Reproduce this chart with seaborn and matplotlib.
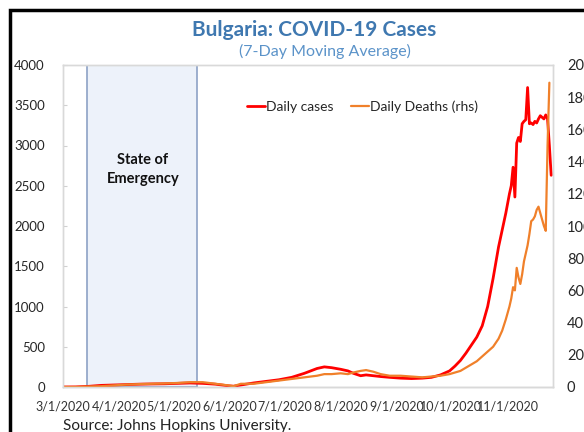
import numpy as np
import pandas as pd
import matplotlib
matplotlib.use("Agg")
import matplotlib.pyplot as plt
from matplotlib.patches import Rectangle
import seaborn as sns

# 7-day moving averages
dates = [
    "2020-03-01", "2020-03-08", "2020-03-15", "2020-03-22", "2020-03-29",
    "2020-04-05", "2020-04-12", "2020-04-19", "2020-04-26", "2020-05-03",
    "2020-05-10", "2020-05-17", "2020-05-24", "2020-05-31", "2020-06-03",
    "2020-06-07", "2020-06-14", "2020-06-21", "2020-06-28", "2020-07-05",
    "2020-07-12", "2020-07-19", "2020-07-23", "2020-07-27", "2020-08-01",
    "2020-08-05", "2020-08-08", "2020-08-12", "2020-08-15", "2020-08-19",
    "2020-08-23", "2020-08-28", "2020-09-03", "2020-09-09", "2020-09-15",
    "2020-09-20", "2020-09-25", "2020-09-30", "2020-10-03", "2020-10-06",
    "2020-10-09", "2020-10-12", "2020-10-15", "2020-10-18", "2020-10-21",
    "2020-10-24", "2020-10-27", "2020-10-29", "2020-10-31", "2020-11-02",
    "2020-11-03", "2020-11-04", "2020-11-05", "2020-11-06", "2020-11-07",
    "2020-11-08", "2020-11-09", "2020-11-10", "2020-11-11", "2020-11-12",
    "2020-11-13", "2020-11-14", "2020-11-15", "2020-11-16", "2020-11-17",
    "2020-11-18", "2020-11-19", "2020-11-20", "2020-11-21", "2020-11-22",
    "2020-11-23", "2020-11-24", "2020-11-25",
]
daily_cases = [
    0, 1, 8, 20, 25,
    30, 35, 38, 40, 45,
    50, 45, 35, 15, 10,
    25, 50, 70, 90, 120,
    170, 230, 250, 240, 220,
    200, 170, 140, 150, 140,
    130, 120, 110, 105, 110,
    120, 150, 200, 260, 330,
    420, 520, 620, 760, 1000,
    1350, 1740, 1950, 2160, 2400,
    2500, 2730, 2360, 3030, 3100,
    3050, 3270, 3300, 3320, 3720,
    3270, 3280, 3260, 3300, 3280,
    3330, 3370, 3350, 3330, 3380,
    3330, 3000, 2630,
]
daily_deaths = [
    0, 0, 0.3, 0.5, 1,
    1.5, 1.8, 2, 2.2, 2.5,
    3, 3, 2, 1, 0.5,
    2, 2, 3, 4, 5,
    6, 7, 8, 8, 8.5,
    8, 9, 10, 10.5, 9.5,
    8, 7, 7, 6.5, 6,
    6.5, 7, 8, 9, 10,
    12, 14, 16, 19, 22,
    25, 30, 35, 42, 50,
    55, 62, 60, 74, 68,
    64, 70, 78, 83, 88,
    95, 103, 104, 106, 110,
    112, 108, 104, 100, 97,
    150, 189, np.nan,
]

df = pd.DataFrame({
    "date": pd.to_datetime(dates),
    "cases": daily_cases,
    "deaths": daily_deaths,
})

sns.set_style("white")
plt.rcParams["font.family"] = ["Lato", "DejaVu Sans"]

fig = plt.figure(figsize=(5.84, 4.32), dpi=100)
ax = fig.add_axes([63 / 584, 45 / 432, 490 / 584, 322 / 432])
ax2 = ax.twinx()

# state of emergency shading
ax.axvspan(pd.Timestamp("2020-03-14"), pd.Timestamp("2020-05-14"),
           ymin=0, ymax=1, facecolor="#edf2fa", edgecolor="#8ea2c6", lw=1.2, zorder=0)
ax.text(pd.Timestamp("2020-04-14"), 2700, "State of\nEmergency", ha="center", va="center",
        fontsize=10.5, fontweight="bold", color="#111111", linespacing=1.4)

sns.lineplot(data=df, x="date", y="cases", ax=ax, color="#ff0000", lw=2, label="Daily cases",
             legend=False, zorder=3)
sns.lineplot(data=df, x="date", y="deaths", ax=ax2, color="#f0802a", lw=1.6,
             label="Daily Deaths (rhs)", legend=False, zorder=2)

ax.set_xlim(pd.Timestamp("2020-03-01"), pd.Timestamp("2020-11-26"))
ax.set_ylim(0, 4000)
ax2.set_ylim(0, 200)
ax.set_yticks(range(0, 4001, 500))
ax2.set_yticks(range(0, 201, 20))
ax.set_xlabel("")
ax.set_ylabel("")
ax2.set_ylabel("")

ticks = pd.date_range("2020-03-01", "2020-11-01", freq="MS")
ax.set_xticks(ticks)
ax.set_xticklabels([f"{d.month}/1/2020" for d in ticks], fontsize=9)
ax.tick_params(axis="x", direction="out", length=4, color="#bfbfbf", pad=6, labelcolor="#333333")
ax.tick_params(axis="y", direction="in", length=3, color="#d0d0d0", labelsize=9.5, pad=13)
ax2.tick_params(axis="y", length=0, labelsize=10.5, pad=10)

for a in (ax, ax2):
    for s in a.spines.values():
        s.set_color("#d9d9d9")
        s.set_linewidth(1)
ax.spines["bottom"].set_color("#bfbfbf")

h1, l1 = ax.get_legend_handles_labels()
h2, l2 = ax2.get_legend_handles_labels()
ax.legend(h1 + h2, l1 + l2, loc="upper left", bbox_to_anchor=(0.35, 0.93), ncol=2,
          frameon=False, fontsize=10, handlelength=1.3, handletextpad=0.1, columnspacing=1.2)

fig.text(314 / 584, 1 - 30 / 432, "Bulgaria: COVID-19 Cases", ha="center", va="center",
         fontsize=15, fontweight="bold", color="#3f78b0")
fig.text(325 / 584, 1 - 51 / 432, "(7-Day Moving Average)", ha="center", va="center",
         fontsize=11.5, color="#5b93c9")
fig.text(63 / 584, 1 - 426 / 432, "Source: Johns Hopkins University.", ha="left", va="center",
         fontsize=11, color="#222222")

# outer frame
fig.patches.append(Rectangle((10 / 584, -0.2), 1.2, 1.2 - 10 / 432, transform=fig.transFigure,
                             fill=False, edgecolor="black", lw=2.5))

fig.savefig("out.png", dpi=100)
